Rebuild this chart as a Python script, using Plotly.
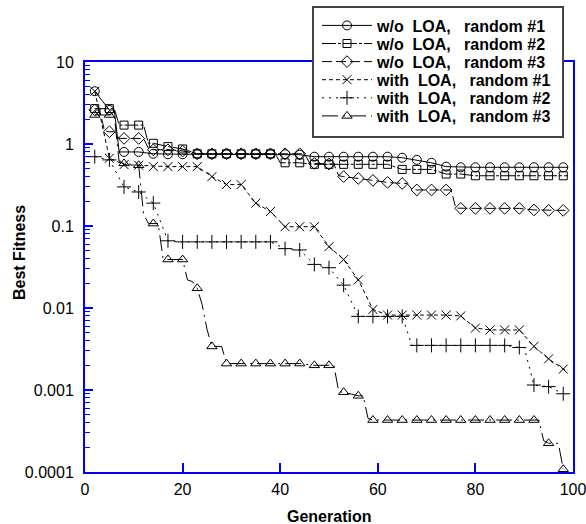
import plotly.graph_objects as go

# Best fitness per generation: (generation, fitness) vertices for each run
wo_loa_1 = [(2, 4.4), (5, 2.6), (6, 2.6), (7, 0.8), (8, 0.8), (11, 0.8), (14, 0.76),
            (17, 0.75), (20, 0.75), (23, 0.75), (26, 0.75), (29, 0.75), (32, 0.75),
            (35, 0.75), (38, 0.75), (41, 0.75), (44, 0.74), (47, 0.70), (50, 0.70),
            (53, 0.70), (56, 0.70), (59, 0.70), (62, 0.70), (65, 0.68), (68, 0.64),
            (71, 0.59), (74, 0.53), (77, 0.52), (80, 0.52), (83, 0.52), (86, 0.52),
            (89, 0.52), (92, 0.52), (95, 0.52), (98, 0.52), (99, 0.52)]

wo_loa_2 = [(2, 2.7), (5, 2.7), (6, 2.7), (7, 1.7), (8, 1.7), (11, 1.7), (12, 1.7),
            (13, 1.02), (14, 1.02), (17, 0.93), (20, 0.87), (23, 0.76), (26, 0.76),
            (29, 0.76), (32, 0.76), (35, 0.76), (38, 0.76), (39, 0.76), (40, 0.59),
            (41, 0.59), (44, 0.59), (47, 0.565), (50, 0.565), (53, 0.565), (56, 0.565),
            (59, 0.565), (62, 0.565), (65, 0.49), (68, 0.49), (71, 0.49), (74, 0.43),
            (77, 0.43), (80, 0.41), (83, 0.41), (86, 0.41), (89, 0.41), (92, 0.41),
            (95, 0.41), (98, 0.41), (99, 0.41)]

wo_loa_3 = [(2, 2.6), (3, 2.6), (4, 1.45), (5, 1.41), (6, 1.41), (7, 1.17), (8, 1.17),
            (11, 1.17), (12, 1.17), (13, 0.88), (14, 0.85), (17, 0.85), (20, 0.82),
            (23, 0.76), (26, 0.76), (29, 0.76), (32, 0.76), (35, 0.76), (38, 0.76),
            (41, 0.76), (44, 0.76), (45, 0.76), (46, 0.59), (47, 0.58), (50, 0.57),
            (51, 0.57), (52, 0.41), (53, 0.40), (56, 0.38), (59, 0.36), (62, 0.34),
            (65, 0.33), (66, 0.33), (67, 0.28), (68, 0.275), (71, 0.275), (74, 0.275),
            (75, 0.275), (76, 0.165), (77, 0.164), (80, 0.164), (83, 0.164), (86, 0.164),
            (89, 0.164), (92, 0.157), (95, 0.155), (98, 0.155), (99, 0.155)]

with_loa_1 = [(2, 4.4), (5, 0.67), (8, 0.56), (11, 0.55), (14, 0.53), (17, 0.53),
              (20, 0.53), (23, 0.53), (26, 0.40), (29, 0.32), (32, 0.32), (35, 0.19),
              (38, 0.15), (41, 0.098), (44, 0.098), (47, 0.098), (50, 0.056), (53, 0.039),
              (56, 0.022), (59, 0.0096), (62, 0.0082), (65, 0.0082), (68, 0.0082),
              (71, 0.0082), (74, 0.0082), (77, 0.0080), (80, 0.0057), (83, 0.0054),
              (86, 0.0054), (89, 0.0054), (92, 0.0034), (95, 0.0024), (98, 0.0018),
              (99, 0.0017)]

with_loa_2 = [(2, 0.70), (5, 0.64), (8, 0.30), (11, 0.26), (14, 0.19), (17, 0.066),
              (20, 0.064), (23, 0.064), (26, 0.064), (29, 0.064), (32, 0.064), (35, 0.064),
              (38, 0.064), (41, 0.053), (44, 0.051), (47, 0.034), (50, 0.031), (53, 0.019),
              (56, 0.0079), (59, 0.0079), (62, 0.0079), (65, 0.0079), (67, 0.0035),
              (68, 0.0035), (71, 0.0035), (74, 0.0035), (77, 0.0035), (80, 0.0035),
              (83, 0.0035), (86, 0.0035), (89, 0.0033), (90, 0.0033), (92, 0.00115),
              (95, 0.0011), (98, 0.0009), (99, 0.0009)]

with_loa_3 = [(2, 2.26), (5, 2.26), (6, 2.26), (7, 0.6), (8, 0.58), (11, 0.55),
              (12, 0.14), (13, 0.107), (14, 0.107), (15, 0.107), (16, 0.040), (17, 0.039),
              (20, 0.039), (21, 0.022), (22, 0.021), (23, 0.0174), (24, 0.011),
              (25, 0.0055), (26, 0.0034), (28, 0.0034), (29, 0.0021), (32, 0.0021),
              (35, 0.0021), (38, 0.0021), (41, 0.0021), (44, 0.0021), (47, 0.002),
              (50, 0.002), (51, 0.002), (52, 0.00095), (53, 0.00094), (56, 0.00085),
              (57, 0.00085), (58, 0.00045), (59, 0.00043), (62, 0.00043), (65, 0.00043),
              (68, 0.00043), (71, 0.00043), (74, 0.00043), (77, 0.00043), (80, 0.00043),
              (83, 0.00043), (86, 0.00043), (89, 0.00043), (92, 0.00043), (93, 0.00043),
              (94, 0.00024), (95, 0.000224), (97, 0.000224), (98, 0.000108)]

run_names = ["w/o  LOA,   random #1", "w/o  LOA,   random #2", "w/o  LOA,   random #3",
             "with  LOA,   random #1", "with  LOA,   random #2", "with  LOA,   random #3"]

y_tick_vals = [1e-4, 1e-3, 1e-2, 1e-1, 1, 10]
y_tick_text = ["0.0001", "0.001", "0.01", "0.1", "1", "10"]
x_tick_vals = [0, 20, 40, 60, 80, 100]

BLUE = "#0000ff"
FONT = "Arial, Liberation Sans, sans-serif"
MARKER_EVERY = 3
FIRST_MARKER = 2

styles = [
    (wo_loa_1, "circle-open", 9, "solid"),
    (wo_loa_2, "square-open", 8, "14px,2px,3px,2px"),
    (wo_loa_3, "diamond-open", 9, "10px,4px"),
    (with_loa_1, "x-thin-open", 9, "4px,3px"),
    (with_loa_2, "cross-thin-open", 10, "2px,5px"),
    (with_loa_3, "triangle-up-open", 9, "16px,5px,2px,5px"),
]

# Figure geometry (pixels) used to place the legend block in paper units
W, H = 586, 524
M_L, M_R, M_T, M_B = 85, 13, 62, 52
PLOT_W, PLOT_H = W - M_L - M_R, H - M_T - M_B


def px_x(px):
    return (px - M_L) / PLOT_W


def px_y(px):
    return (H - M_B - px) / PLOT_H


LEGEND_BOX = (313, 7, 563, 137)   # left, top, right, bottom in pixels
LEGEND_ROW0, LEGEND_ROW_STEP = 25.5, 18.1

fig = go.Figure()
legend_layouts = {}
for i, (name, (pts, symbol, msize, dash)) in enumerate(zip(run_names, styles)):
    gens = [p[0] for p in pts]
    fits = [p[1] for p in pts]
    mk = [p for p in pts if (p[0] - FIRST_MARKER) % MARKER_EVERY == 0]
    line = dict(color="black", width=1, dash=dash)
    marker = dict(symbol=symbol, size=msize, color="black",
                  line=dict(color="black", width=1))
    # connecting line through every generation vertex
    fig.add_trace(go.Scatter(x=gens, y=fits, mode="lines", line=line,
                             showlegend=False, hoverinfo="skip"))
    # symbols every third generation
    fig.add_trace(go.Scatter(x=[p[0] for p in mk], y=[p[1] for p in mk],
                             mode="markers", marker=marker, showlegend=False))
    # one legend row per run, stacked at a fixed row pitch
    leg_id = "legend" if i == 0 else f"legend{i + 1}"
    fig.add_trace(go.Scatter(x=[None], y=[None], mode="lines+markers",
                             name=name.replace(" ", "\u00a0"), legend=leg_id,
                             line=line, marker=marker))
    legend_layouts[leg_id] = dict(
        x=px_x(LEGEND_BOX[0] + 4), y=px_y(LEGEND_ROW0 + i * LEGEND_ROW_STEP),
        xanchor="left", yanchor="middle", bgcolor="rgba(0,0,0,0)", borderwidth=0,
        font=dict(family=FONT, size=16, color="black", weight="bold"),
        itemwidth=50)

minor_vals = [m * 10.0 ** e for e in range(-4, 1) for m in range(2, 10)]

fig.update_layout(
    template="none",
    width=W, height=H,
    margin=dict(l=M_L, r=M_R, t=M_T, b=M_B, autoexpand=False),
    paper_bgcolor="white", plot_bgcolor="white",
    font=dict(family=FONT, size=16, color="black"),
    showlegend=True,
    xaxis=dict(range=[0, 100], tickvals=x_tick_vals, ticks="inside", ticklen=9,
               tickcolor=BLUE, tickwidth=1.5, showline=True, linecolor=BLUE,
               linewidth=2, mirror=True, showgrid=False, zeroline=False,
               automargin=False, tickfont=dict(size=16), ticklabeloverflow="allow",
               ticklabelstandoff=2),
    yaxis=dict(type="log", range=[-4, 1], tickvals=y_tick_vals, ticktext=y_tick_text,
               ticks="inside", ticklen=8, tickcolor=BLUE, tickwidth=1.5,
               showline=True, linecolor=BLUE, linewidth=2, mirror=True,
               showgrid=False, zeroline=False, automargin=False,
               tickfont=dict(size=16), ticklabelstandoff=6,
               minor=dict(tickvals=minor_vals, ticks="inside", ticklen=5,
                          tickcolor=BLUE, tickwidth=1, showgrid=False)),
    shapes=[dict(type="rect", xref="paper", yref="paper", layer="above",
                 x0=px_x(LEGEND_BOX[0]), x1=px_x(LEGEND_BOX[2]),
                 y0=px_y(LEGEND_BOX[3]), y1=px_y(LEGEND_BOX[1]),
                 fillcolor="white", line=dict(color="#444444", width=2))],
    annotations=[
        dict(text="<b>Generation</b>", xref="paper", yref="paper", x=px_x(329),
             y=px_y(516), xanchor="center", yanchor="middle", showarrow=False,
             font=dict(size=16)),
        dict(text="<b>Best Fitness</b>", xref="paper", yref="paper", x=px_x(19),
             y=px_y(253), xanchor="center", yanchor="middle", showarrow=False,
             textangle=-90, font=dict(size=16)),
    ],
    **legend_layouts,
)

fig.write_html("out.html")
